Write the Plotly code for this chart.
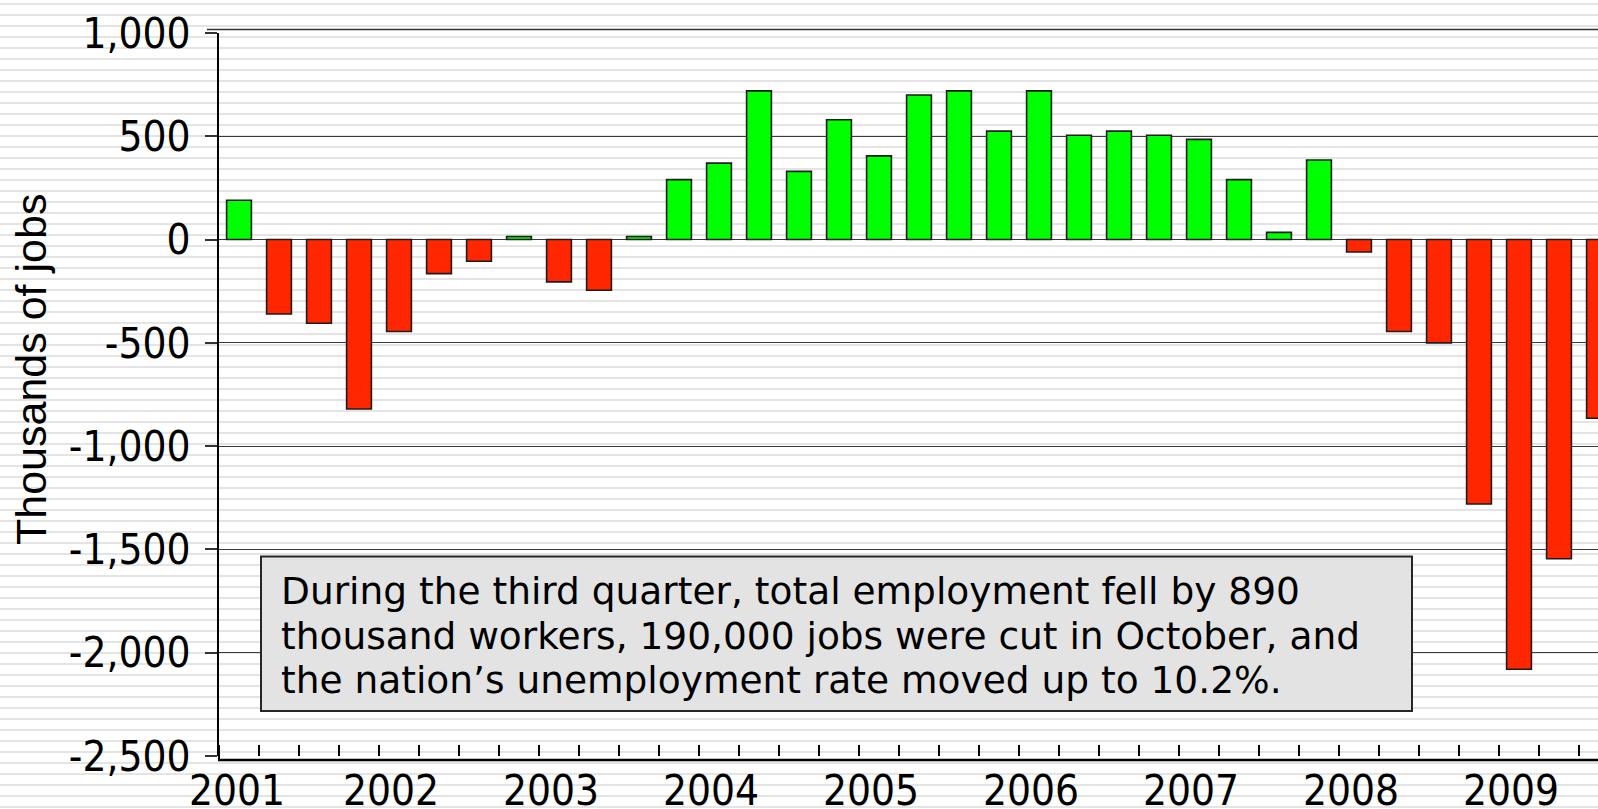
import plotly.graph_objects as go

# ---- data (thousands of jobs, quarterly change 2001Q1 .. 2009Q3) ----
quarters = [f"{y}Q{q}" for y in range(2001, 2010) for q in range(1, 5)][:35]
job_change = [190, -360, -405, -820, -445, -165, -105, 15, -205, -245, 15, 290,
              370, 720, 330, 580, 405, 700, 720, 525, 720, 505, 525, 505,
              485, 290, 35, 385, -60, -445, -500, -1280, -2080, -1545, -865]
year_labels = [str(y) for y in range(2001, 2010)]
y_ticks = [-2500, -2000, -1500, -1000, -500, 0, 500, 1000]
note_lines = ["During the third quarter, total employment fell by 890",
              "thousand workers, 190,000 jobs were cut in October, and",
              "the nation\u2019s unemployment rate moved up to 10.2%."]

W, H = 1598, 809
ML, MR, MT, MB = 219, 0, 33, 53
PW, PH = W - ML - MR, H - MT - MB


def px(x):
    return (x - ML) / PW


def py(y):
    return (H - MB - y) / PH


GREEN, RED = "#00ff00", "#ff2600"
colors = [GREEN if v >= 0 else RED for v in job_change]
xpos = list(range(len(job_change)))

fig = go.Figure()
fig.add_trace(go.Bar(
    x=xpos, y=job_change, width=0.62,
    marker=dict(color=colors, line=dict(color="#1c1c1c", width=1.6)),
    hoverinfo="y", showlegend=False,
))

tick_font = dict(family="DejaVu Sans Condensed, DejaVu Sans, sans-serif", size=42, color="black")

shapes = []
# striped background
for k in range(75):
    top = 3 + 11 * k
    shapes.append(dict(type="rect", xref="paper", yref="paper",
                       x0=px(-5), x1=px(W + 5), y0=py(top + 2), y1=py(top),
                       fillcolor="#e4e4e4", line=dict(width=0), layer="below"))
# top double line and bottom axis line
shapes.append(dict(type="line", xref="paper", yref="paper", x0=px(207), x1=px(W + 5),
                   y0=py(29.5), y1=py(29.5), line=dict(color="#333333", width=1.5)))
shapes.append(dict(type="line", xref="paper", yref="paper", x0=px(218), x1=px(W + 5),
                   y0=py(760), y1=py(760), line=dict(color="black", width=2.5)))
shapes.append(dict(type="line", xref="paper", yref="paper", x0=px(219), x1=px(219),
                   y0=py(761), y1=py(755), line=dict(color="black", width=2)))
# note box
shapes.append(dict(type="rect", xref="paper", yref="paper", x0=px(261), x1=px(1412),
                   y0=py(711), y1=py(556.5), fillcolor="#e3e3e3",
                   line=dict(color="#262626", width=2)))

note_font = dict(family="DejaVu Sans, Verdana, sans-serif", size=37.5, color="black")
line_centers = [591, 636, 680]
annotations = [
    dict(text="Thousands of jobs", textangle=-90, xref="paper", yref="paper",
         x=px(31), y=py(369), xanchor="center", yanchor="middle", showarrow=False,
         font=dict(family="Liberation Sans, Arial, sans-serif", size=43, color="black")),
]
for line, yc in zip(note_lines, line_centers):
    annotations.append(dict(text=line, xref="paper", yref="paper",
                            x=px(279), y=py(yc), xanchor="left", yanchor="middle",
                            align="left", showarrow=False, font=note_font))

fig.update_layout(
    width=W, height=H,
    margin=dict(l=ML, r=MR, t=MT, b=MB, autoexpand=False),
    paper_bgcolor="white", plot_bgcolor="rgba(0,0,0,0)",
    bargap=0.38,
    shapes=shapes,
    xaxis=dict(
        range=[-0.5, -0.5 + PW / 40.0],
        tickmode="array",
        tickvals=[max(4 * i - 0.2, -0.05) for i in range(len(year_labels))],
        ticktext=year_labels,
        ticks="", tickfont=tick_font, ticklabelstandoff=6,
        showgrid=False, zeroline=False, showline=False,
        minor=dict(tickmode="linear", tick0=0.5, dtick=1, ticks="inside",
                   ticklen=11, tickwidth=1.5, tickcolor="black", showgrid=False),
    ),
    yaxis=dict(
        range=[-2500, 1000],
        tickmode="array", tickvals=y_ticks, ticktext=[f"{v:,}" for v in y_ticks],
        ticks="outside", ticklen=12, tickwidth=1.5, tickcolor="#333333",
        tickfont=tick_font, ticklabelstandoff=6,
        showgrid=True, gridcolor="#3a3a3a", gridwidth=1,
        zeroline=False, showline=True, linecolor="black", linewidth=2,
    ),
    annotations=annotations,
)

fig.write_html(
    "out.html",
    config={"displayModeBar": False},
    post_script="document.body.style.margin='0';document.body.style.overflow='hidden';",
)
